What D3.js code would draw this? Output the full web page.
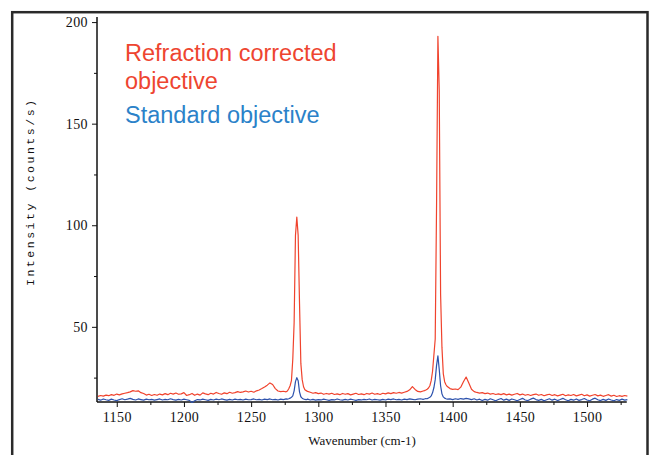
<!DOCTYPE html>
<html><head><meta charset="utf-8">
<script src="https://cdn.jsdelivr.net/npm/d3@7/dist/d3.min.js"></script>
<style>body{margin:0;background:#fff;}svg{display:block;}</style>
</head><body>
<div id="chart"></div>
<script>
const wavenumber = [
1136,1138,1140,1142,1144,1146,1148,1150,1152,1154,
1156,1158,1160,1162,1164,1166,1168,1170,1172,1174,
1176,1178,1180,1182,1184,1186,1188,1190,1192,1194,
1196,1198,1200,1202,1204,1206,1208,1210,1212,1214,
1216,1218,1220,1222,1224,1226,1228,1230,1232,1234,
1236,1238,1240,1242,1244,1246,1248,1250,1252,1254,
1256,1258,1260,1262,1264,1266,1268,1270,1272,1274,
1276,
1277,1278,1279,1280,1281,1282,1283,1284,1285,1286,
1287,1288,1289,1290,1291,1292,
1294,1296,1298,1300,1302,1304,1306,1308,1310,1312,
1314,1316,1318,1320,1322,1324,1326,1328,1330,1332,
1334,1336,1338,1340,1342,1344,1346,1348,1350,1352,
1354,1356,1358,1360,1362,1364,1366,1368,1370,1372,
1374,1376,1378,
1379,1380,1381,1382,1383,1384,1385,1386,1387,1388,
1389,1390,1391,1392,1393,1394,1395,1396,
1398,1400,1402,1404,1406,1408,1410,1412,1414,1416,
1418,1420,1422,1424,1426,1428,1430,1432,1434,1436,
1438,1440,1442,1444,1446,1448,1450,1452,1454,1456,
1458,1460,1462,1464,1466,1468,1470,1472,1474,1476,
1478,1480,1482,1484,1486,1488,1490,1492,1494,1496,
1498,1500,1502,1504,1506,1508,1510,1512,1514,1516,
1518,1520,1522,1524,1526,1528,1530
];
const refractionCorrected = [
15.8,16.2,15.9,16.4,16.1,16.6,16.3,16.9,16.5,17.0,
17.3,17.6,18.0,18.6,18.3,18.5,17.6,17.2,16.4,16.8,
16.2,16.7,16.3,16.9,16.5,17.1,16.6,17.3,16.9,17.4,
16.8,17.0,17.6,16.2,16.6,17.2,16.3,16.9,16.4,17.5,
17.0,16.6,17.3,16.9,17.7,17.2,16.8,17.5,17.1,17.8,
17.3,17.6,18.1,17.7,18.0,18.4,17.9,18.3,17.8,18.5,
18.9,19.6,20.4,21.3,22.4,21.6,19.6,18.4,18.1,18.3,
18.0,
18.4,19.5,21.0,23.5,34.0,52.0,95.0,104.0,95.0,62.0,
32.0,24.0,20.5,19.0,18.6,18.2,
17.8,17.3,17.6,17.1,17.4,16.8,17.2,16.9,17.3,16.7,
17.0,16.6,17.2,16.8,17.1,16.5,16.9,17.3,16.7,17.0,
16.6,17.2,16.9,17.4,16.8,17.1,16.7,17.3,17.0,17.5,
17.1,17.6,17.3,17.7,17.4,17.8,18.2,19.0,20.6,19.2,
18.2,18.0,18.4,
18.6,18.9,19.3,19.9,21.0,23.5,28.0,36.0,44.0,110.0,
193.0,166.0,66.0,40.0,27.0,23.0,21.5,20.6,
19.6,19.2,19.4,19.1,20.3,23.0,25.3,22.4,19.3,18.1,
17.7,17.4,17.6,17.1,17.4,16.9,17.2,16.7,17.0,16.6,
17.1,16.5,16.9,16.4,16.8,17.2,16.5,16.9,16.3,16.7,
16.2,16.6,16.9,16.3,16.7,16.1,16.5,16.8,16.2,16.6,
16.0,16.4,16.8,16.1,16.5,16.2,16.7,16.0,16.4,16.8,
16.1,16.5,15.9,16.3,16.7,16.0,16.4,15.8,16.2,16.6,
15.9,16.3,15.7,16.1,15.8,16.2,15.9
];
const standardObjective = [
14.3,13.9,14.5,14.1,13.8,14.4,14.0,13.7,14.2,14.6,
14.1,14.4,14.8,14.3,14.0,14.5,14.2,13.9,14.4,14.1,
14.3,13.9,14.2,14.5,14.0,14.3,14.1,14.6,14.2,13.9,
14.3,14.0,14.4,14.1,13.8,12.8,13.6,14.2,14.0,14.4,
14.1,13.8,14.3,14.0,14.4,14.1,14.5,14.2,13.9,14.3,
14.0,14.4,14.1,14.3,14.0,14.4,14.1,14.2,14.5,14.1,
14.3,14.0,14.4,14.2,14.5,14.1,14.3,14.0,14.4,14.2,
14.5,
14.4,14.6,14.9,15.3,16.0,18.5,23.0,25.0,23.5,18.0,
15.6,14.9,14.5,14.3,14.1,14.4,
14.0,14.3,13.9,14.2,14.0,14.4,14.1,13.8,14.2,14.0,
14.5,14.1,13.9,14.3,14.0,14.4,14.1,13.8,14.2,14.0,
14.3,14.1,14.5,14.0,14.3,14.1,13.9,14.3,14.0,14.4,
14.2,14.5,14.1,14.3,14.0,14.4,14.2,14.5,14.3,14.1,
14.4,14.6,14.3,
14.5,14.7,14.6,15.0,15.3,16.0,17.5,20.0,24.0,31.0,
35.7,29.0,21.0,17.0,15.5,14.9,14.6,14.4,
14.5,14.2,14.6,14.3,14.7,14.4,14.8,14.5,14.2,14.6,
14.0,14.4,13.7,14.3,13.9,14.6,14.1,13.6,14.2,14.7,
13.9,14.4,13.8,14.5,14.1,13.6,14.2,14.8,14.0,13.7,
14.4,14.9,14.2,13.8,14.3,13.6,14.1,14.6,13.9,14.4,
13.7,14.2,14.8,14.1,13.6,14.3,13.9,14.5,13.8,14.2,
14.7,14.0,13.6,14.4,14.9,14.1,13.7,14.3,13.8,14.5,
14.0,13.6,14.2,13.8,14.4,13.9,14.2
];
const xMajorTicks = [1150,1200,1250,1300,1350,1400,1450,1500];
const xMinorTicks = [1175,1225,1275,1325,1375,1425,1475,1525];
const yMajorTicks = [50,100,150,200];
const yMinorTicks = [25,75,125,175];
const legendLines = [
  {text:"Refraction corrected", color:"#ee4530"},
  {text:"objective", color:"#ee4530"},
  {text:"Standard objective", color:"#2b82c9"}
];

const W = 651, H = 455;
const svg = d3.select("#chart").append("svg").attr("width", W).attr("height", H);

// outer frame
svg.append("rect").attr("x", 12.2).attr("y", 12.2).attr("width", 635.3).attr("height", 470)
  .attr("fill", "none").attr("stroke", "#2a2a2a").attr("stroke-width", 2.5);

const x = d3.scaleLinear().domain([1135.3, 1529.5]).range([97, 626.7]);
const y = d3.scaleLinear().domain([13, 202.5]).range([402, 17]);

const serif = "'Liberation Serif','Times New Roman',serif";

// x axis
const gx = svg.append("g").attr("transform", `translate(0,${y.range()[0]})`);
gx.call(d3.axisBottom(x).tickValues(xMajorTicks).tickSize(5).tickFormat(d3.format("d")));
gx.append("g").call(d3.axisBottom(x).tickValues(xMinorTicks).tickSize(3).tickFormat(""));
gx.selectAll(".domain").attr("d", `M${x.range()[0]},0H${x.range()[1]}`);
gx.selectAll("text").attr("font-family", serif).attr("font-size", 14).attr("fill", "#111")
  .attr("dy", "0.85em").attr("letter-spacing", 0.4);

// y axis
const gy = svg.append("g").attr("transform", `translate(${x.range()[0]},0)`);
gy.call(d3.axisLeft(y).tickValues(yMajorTicks).tickSize(5).tickFormat(d3.format("d")));
gy.append("g").call(d3.axisLeft(y).tickValues(yMinorTicks).tickSize(3).tickFormat(""));
gy.selectAll(".domain").attr("d", `M0,${y.range()[0]}V${y.range()[1]}`);
gy.selectAll("text").attr("font-family", serif).attr("font-size", 14).attr("fill", "#111")
  .attr("x", -9).attr("letter-spacing", 0.4);

svg.selectAll(".domain, .tick line").attr("stroke", "#111");

// lines
const line = (vals) => d3.line().x((d, i) => x(wavenumber[i])).y(d => y(d))(vals);
svg.append("path").attr("d", line(standardObjective)).attr("fill", "none")
  .attr("stroke", "#2d52ad").attr("stroke-width", 1.2).attr("stroke-linejoin", "round");
svg.append("path").attr("d", line(refractionCorrected)).attr("fill", "none")
  .attr("stroke", "#f0432d").attr("stroke-width", 1.2).attr("stroke-linejoin", "round");

// axis titles
svg.append("text").attr("x", 362).attr("y", 445).attr("text-anchor", "middle")
  .attr("font-family", serif).attr("font-size", 13).attr("fill", "#111").text("Wavenumber (cm-1)");
svg.append("text").attr("transform", "translate(34,193) rotate(-90)").attr("text-anchor", "middle")
  .attr("font-family", "'Liberation Mono','Courier New',monospace").attr("font-size", 11.5)
  .attr("fill", "#111").attr("textLength", 186).text("Intensity (counts/s)");

// legend text
const lg = svg.append("g").attr("font-family", "'Liberation Sans',Arial,sans-serif").attr("font-size", 23.5);
const legendY = [61, 89, 123];
legendLines.forEach((l, i) => {
  lg.append("text").attr("x", 125).attr("y", legendY[i]).attr("fill", l.color).text(l.text);
});
</script>
</body></html>
